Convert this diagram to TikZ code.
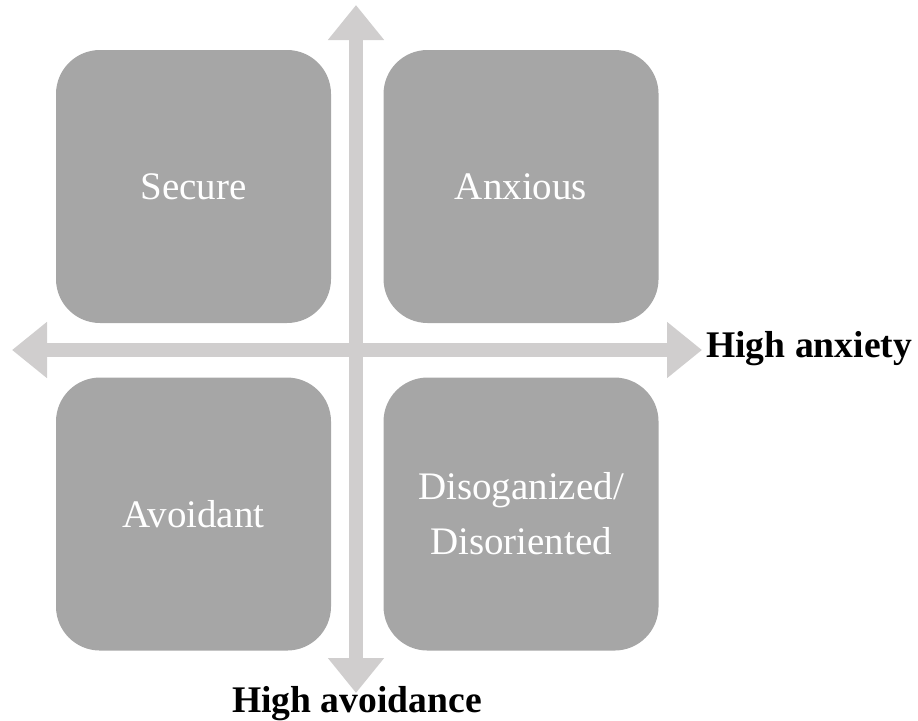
\documentclass[tikz,border=0pt]{standalone}
\usepackage{fontspec}
\setmainfont{Liberation Serif}
\usepackage{xcolor}
\usetikzlibrary{positioning, arrows.meta}

\definecolor{quadgray}{HTML}{A6A6A6}
\definecolor{axisgray}{HTML}{D0CECE}

\begin{document}
\begin{tikzpicture}[
    x=0.75pt, y=-0.75pt,
    quad/.style={rectangle, rounded corners=33pt, fill=quadgray, minimum width=206.25pt, minimum height=204.75pt, inner sep=0pt, text=white, align=center, font=\fontsize{29.25}{41.25}\selectfont},
    axis/.style={{Triangle[length=26.25pt, width=40.5pt]}-{Triangle[length=26.25pt, width=40.5pt]}, line width=10.5pt, draw=axisgray, shorten <=0pt, shorten >=0pt},
    axislbl/.style={font=\fontsize{28.2}{32}\selectfont\bfseries, inner sep=0pt},
]
    \useasboundingbox (0,0) rectangle (918,721);

    % Quadrants
    \node[quad] (secure) at (193.5,186.5) {Secure};
    \node[quad, right=39pt of secure] (anxious) {Anxious};
    \node[quad, below=40.5pt of secure] (avoidant) {Avoidant};
    \node[quad, right=39pt of avoidant] (disorg) {Disoganized/\\Disoriented};

    % Axis ends
    \coordinate (west) at (12,350);
    \coordinate (east) at (702,350);
    \coordinate (north) at (356,5);
    \coordinate (south) at (356,693);

    % Axes
    \draw[axis] (west) -- (east);
    \draw[axis] (north) -- (south);

    % Axis labels
    \node[axislbl, anchor=base west] (anxiety) at (706,357) {High anxiety};
    \node[axislbl, anchor=base] (avoidance) at (357,712) {High avoidance};

\end{tikzpicture}
\end{document}
